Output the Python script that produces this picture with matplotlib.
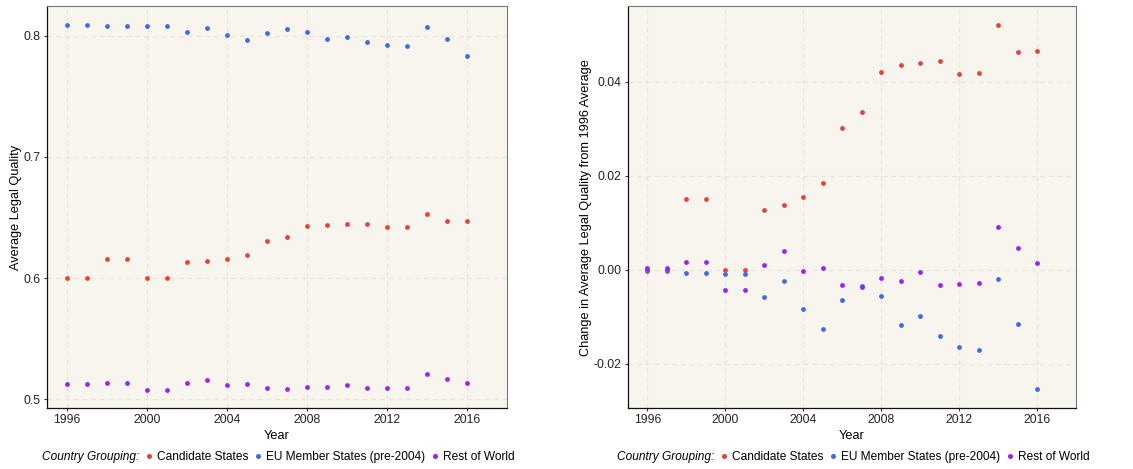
"""Legal quality by country grouping, levels and change from 1996."""

import matplotlib

matplotlib.use("Agg")
import matplotlib.pyplot as plt
from matplotlib.lines import Line2D

plt.rcParams["font.family"] = ["Liberation Sans", "DejaVu Sans"]
plt.rcParams["axes.unicode_minus"] = False

years = list(range(1996, 2017))
groups = ["Candidate States", "EU Member States (pre-2004)", "Rest of World"]
colors = ["#E8403A", "#3F6BE6", "#A020F0"]

# average legal quality (left panel)
candidate_level = [0.5999, 0.5999, 0.6154, 0.6154, 0.6000, 0.6000, 0.6132, 0.6140, 0.6157,
                   0.6187, 0.6303, 0.6341, 0.6427, 0.6441, 0.6443, 0.6449, 0.6419, 0.6421,
                   0.6526, 0.6468, 0.6471]
eu_level = [0.8091, 0.8091, 0.8083, 0.8083, 0.8083, 0.8083, 0.8031, 0.8064, 0.8006,
            0.7962, 0.8025, 0.8053, 0.8033, 0.7973, 0.7989, 0.7948, 0.7926, 0.7918,
            0.8069, 0.7973, 0.7832]
rest_level = [0.5126, 0.5126, 0.5137, 0.5137, 0.5077, 0.5077, 0.5132, 0.5162, 0.5118,
              0.5126, 0.5091, 0.5082, 0.5104, 0.5099, 0.5115, 0.5091, 0.5091, 0.5093,
              0.5212, 0.5171, 0.5137]

# change from the 1996 average (right panel)
candidate_change = [-0.0003, -0.0003, 0.01508, 0.01508, 0.0, 0.0, 0.01267, 0.01381, 0.01544,
                    0.01834, 0.03016, 0.03356, 0.04213, 0.04354, 0.0439, 0.04439, 0.04156,
                    0.04177, 0.05204, 0.0463, 0.04659]
eu_change = [0.0, 0.0, -0.00064, -0.00064, -0.00085, -0.00085, -0.00588, -0.00248, -0.00828,
             -0.0126, -0.00651, -0.00347, -0.00559, -0.01168, -0.00984, -0.01402, -0.01643,
             -0.01706, -0.00205, -0.01154, -0.02549]
rest_change = [0.000425, 0.000425, 0.00163, 0.00163, -0.00432, -0.00432, 0.00092, 0.00404,
               -0.00035, 0.000425, -0.00326, -0.00375, -0.00184, -0.00234, -0.00057,
               -0.00326, -0.00304, -0.00283, 0.00913, 0.0046, 0.00149]

x_ticks = [1996, 2000, 2004, 2008, 2012, 2016]
level_ticks = [0.5, 0.6, 0.7, 0.8]
level_tick_labels = ["0.5", "0.6", "0.7", "0.8"]
change_ticks = [-0.02, 0.0, 0.02, 0.04]
change_tick_labels = ["-0.02", "0.00", "0.02", "0.04"]

PANEL_BG = "#F8F5EF"
GRID = "#EDE5D2"


def style_axis(ax, ylabel, yticks, yticklabels, ylim):
    ax.set_facecolor(PANEL_BG)
    ax.set_xlim(1995, 2018)
    ax.set_ylim(*ylim)
    ax.set_xticks(x_ticks)
    ax.set_yticks(yticks)
    ax.set_yticklabels(yticklabels)
    ax.grid(True, color=GRID, linestyle=(0, (4, 3)), linewidth=0.9)
    ax.set_axisbelow(True)
    ax.tick_params(length=2.5, width=0.8, color="#333333", labelsize=8.7, pad=2,
                   labelcolor="#222222")
    for side in ("top", "right"):
        ax.spines[side].set_color("#777777")
        ax.spines[side].set_linewidth(0.8)
    for side in ("left", "bottom"):
        ax.spines[side].set_color("#111111")
        ax.spines[side].set_linewidth(0.9)
    ax.set_xlabel("Year", fontsize=9.2, labelpad=3)
    ax.set_ylabel(ylabel, fontsize=9.2, labelpad=1.5)


def add_legend(fig, ax):
    blank = Line2D([], [], linestyle="none")
    handles = [blank] + [
        Line2D([], [], marker="o", linestyle="none", color=c, markersize=2.6) for c in colors
    ]
    labels = ["Country Grouping:"] + groups
    box = ax.get_position()
    leg = fig.legend(handles, labels, ncol=4, loc="center",
                     bbox_to_anchor=((box.x0 + box.x1) / 2 - 0.004, 0.025),
                     frameon=False, fontsize=8.6, handlelength=0.6, handletextpad=0.4,
                     columnspacing=0.5, borderpad=0.1)
    leg.get_texts()[0].set_fontstyle("italic")


fig = plt.figure(figsize=(11.33, 4.69), dpi=100)
ax_level = fig.add_axes([0.0415, 0.130, 0.406, 0.857])
ax_change = fig.add_axes([0.5543, 0.130, 0.3954, 0.857])

for values, color in zip([candidate_level, eu_level, rest_level], colors):
    ax_level.scatter(years, values, s=12, color=color, linewidths=0, zorder=3)
for values, color in zip([candidate_change, eu_change, rest_change], colors):
    ax_change.scatter(years, values, s=12, color=color, linewidths=0, zorder=3)

style_axis(ax_level, "Average Legal Quality", level_ticks, level_tick_labels, (0.4928, 0.8245))
style_axis(ax_change, "Change in Average Legal Quality from 1996 Average", change_ticks,
           change_tick_labels, (-0.02945, 0.05607))

add_legend(fig, ax_level)
add_legend(fig, ax_change)

fig.savefig("out.png", dpi=100)
